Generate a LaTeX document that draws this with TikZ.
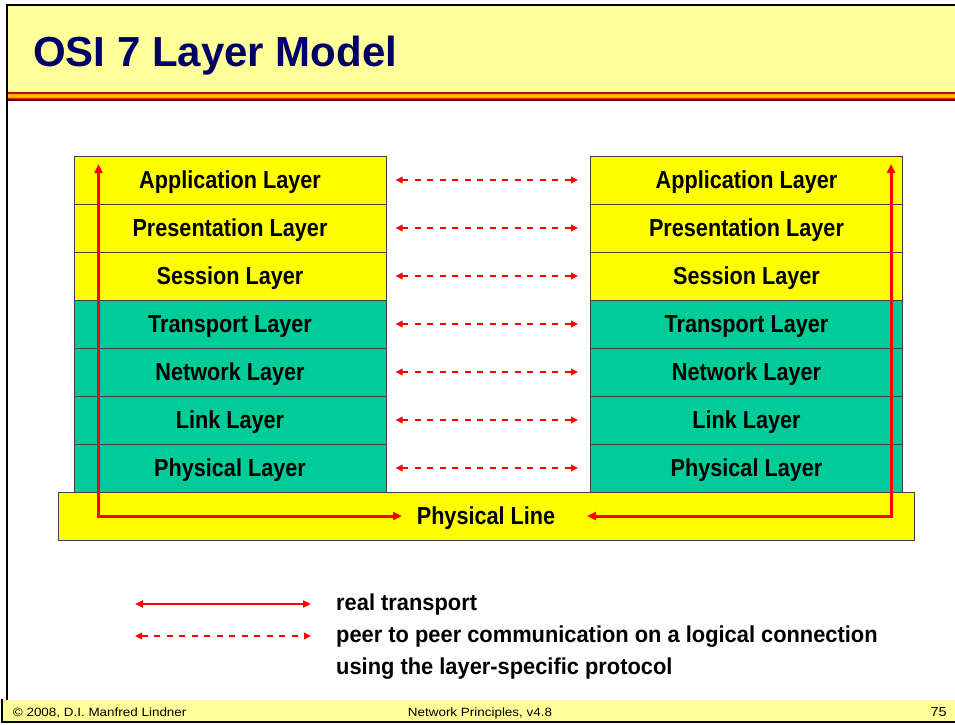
\documentclass[tikz,border=0pt]{standalone}
\usepackage{fontspec}
\setmainfont{Liberation Sans}
\newfontfamily\titlefont{Liberation Sans Bold}
\newfontfamily\layerfont{Liberation Sans Bold}[FakeStretch=0.88]
\newfontfamily\legfont{Liberation Sans Bold}[FakeStretch=0.95]
\newfontfamily\footfont{Liberation Sans}[FakeStretch=1.12]
\usetikzlibrary{arrows.meta}
\definecolor{paleyel}{HTML}{FFFF99}
\definecolor{layyel}{HTML}{FFFF00}
\definecolor{layteal}{HTML}{00CC99}
\definecolor{navy}{HTML}{000066}
\definecolor{boxedge}{HTML}{404040}
\definecolor{sdark}{HTML}{990000}
\definecolor{sorange}{HTML}{FF9900}
\definecolor{sgold}{HTML}{FFCC00}
\definecolor{sred}{HTML}{FF2200}
\definecolor{sbrown}{HTML}{660000}
\begin{document}
\begin{tikzpicture}[x=1pt,y=-1pt,
  layerbox/.style={draw=boxedge,line width=1pt,minimum width=312pt,minimum height=48pt,inner sep=0pt,
    text height=17.6pt,text depth=0pt,font=\layerfont\fontsize{24.6}{28}\selectfont},
  upper/.style={layerbox,fill=layyel},
  lower/.style={layerbox,fill=layteal},
  realarrow/.style={draw=red,line width=3pt,{Triangle[length=9pt,width=8pt]}-{Triangle[length=9pt,width=8pt]}},
  legreal/.style={draw=red,line width=2pt,{Triangle[length=8pt,width=7pt]}-{Triangle[length=8pt,width=7pt]}},
  peerarrow/.style={draw=red,line width=2pt,dash pattern=on 6pt off 6.5pt,{Triangle[length=7pt,width=6.5pt]}-{Triangle[length=7pt,width=6.5pt]}},
  legtext/.style={anchor=base west,inner sep=0pt,font=\legfont\fontsize{23}{26}\selectfont},
  foottext/.style={inner sep=0pt,font=\footfont\fontsize{12}{14}\selectfont}
]
\useasboundingbox (0,0) rectangle (955,724);
\fill[white] (0,0) rectangle (955,724);
% title band
\fill[paleyel] (8,6) rectangle (955,91.7);
\fill[sdark] (8,91.7) rectangle (955,92.8);
\fill[red] (8,92.8) rectangle (955,93.8);
\fill[sorange] (8,93.8) rectangle (955,94.8);
\fill[sgold] (8,94.8) rectangle (955,96.8);
\fill[sorange] (8,96.8) rectangle (955,97.9);
\fill[sred] (8,97.9) rectangle (955,99.2);
\fill[sbrown] (8,99.2) rectangle (955,100.7);
\draw[line width=2pt] (7,700) -- (7,5) -- (956,5);
\node[anchor=base west,inner sep=0pt,text=navy,font=\titlefont\fontsize{42}{48}\selectfont] (title) at (33,66) {OSI 7 Layer Model};
% footer
\fill[paleyel] (2,700) rectangle (955,721);
\draw[line width=2pt] (1.5,699) -- (1.5,722) -- (956,722);
\node[foottext,anchor=base west] (copy) at (12.7,716.5) {© 2008, D.I. Manfred Lindner};
\node[foottext,anchor=base] (course) at (480,716.5) {Network Principles, v4.8};
\node[foottext,anchor=base east,font=\footfont\fontsize{13}{15}\selectfont] (page) at (947,716.5) {75};
% left stack
\node[upper] (L1) at (230,180) {Application Layer};
\node[upper] (L2) at (230,228) {Presentation Layer};
\node[upper] (L3) at (230,276) {Session Layer};
\node[lower] (L4) at (230,324) {Transport Layer};
\node[lower] (L5) at (230,372) {Network Layer};
\node[lower] (L6) at (230,420) {Link Layer};
\node[lower] (L7) at (230,468) {Physical Layer};
% right stack
\node[upper] (R1) at (746.5,180) {Application Layer};
\node[upper] (R2) at (746.5,228) {Presentation Layer};
\node[upper] (R3) at (746.5,276) {Session Layer};
\node[lower] (R4) at (746.5,324) {Transport Layer};
\node[lower] (R5) at (746.5,372) {Network Layer};
\node[lower] (R6) at (746.5,420) {Link Layer};
\node[lower] (R7) at (746.5,468) {Physical Layer};
% physical line
\node[upper,minimum width=856pt] (PL) at (486,516) {Physical Line};
% peer arrows
\foreach \i in {1,...,7}
  \draw[peerarrow,shorten <=9pt,shorten >=12pt] (L\i.east) -- (R\i.west);
% real transport
\coordinate (lt) at (98.5,164);
\coordinate (lc) at (98.5,516);
\coordinate (le) at (402,516);
\coordinate (rt) at (891,164);
\coordinate (rc) at (891,516);
\coordinate (re) at (587,516);
\draw[realarrow] (lt) -- (lc) -- (le);
\draw[realarrow] (rt) -- (rc) -- (re);
% legend
\coordinate (ga) at (135,604);
\coordinate (gb) at (311,604);
\coordinate (da) at (135,636);
\coordinate (db) at (311,636);
\draw[legreal] (ga) -- (gb);
\draw[peerarrow] (da) -- (db);
\node[legtext] (t1) at (336,610.7) {real transport};
\node[legtext] (t2) at (336,642.7) {peer to peer communication on a logical connection};
\node[legtext] (t3) at (336,674.7) {using the layer-specific protocol};
\end{tikzpicture}
\end{document}
